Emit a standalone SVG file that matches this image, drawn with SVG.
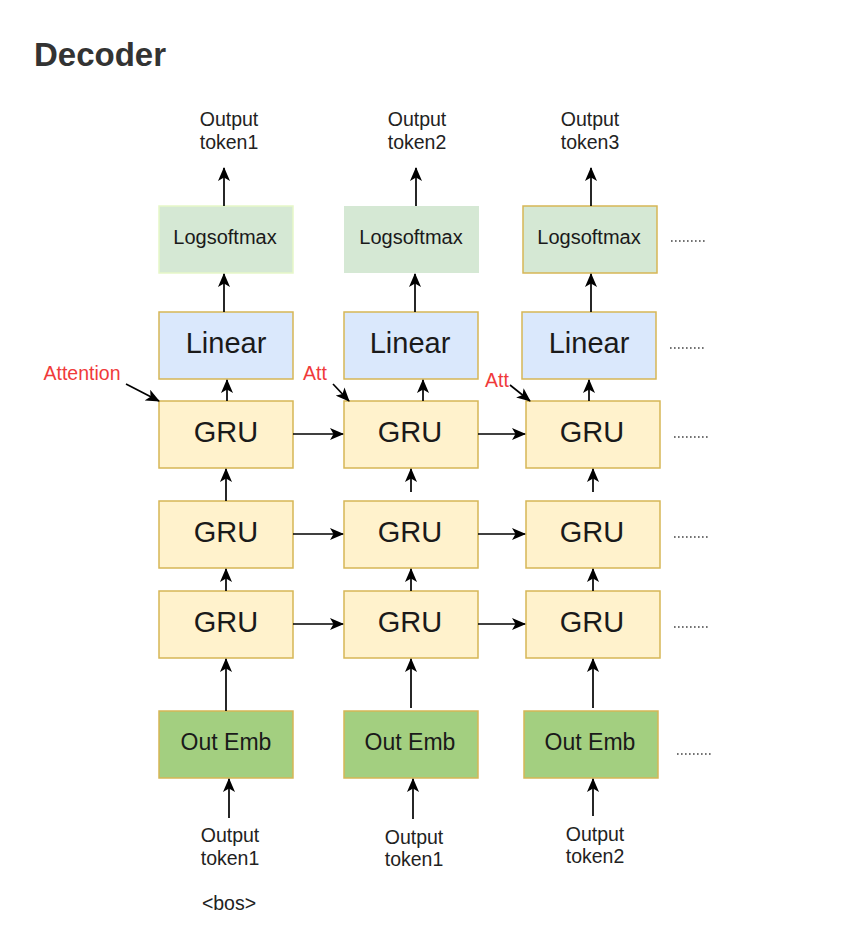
<svg xmlns="http://www.w3.org/2000/svg" width="860" height="948" viewBox="0 0 860 948">
<defs>
<marker id="arr" markerUnits="userSpaceOnUse" markerWidth="14" markerHeight="12" viewBox="0 0 14 12" refX="13" refY="6" orient="auto">
<path d="M0,0 L14,6 L0,12 L3.5,6 z" fill="#000"/>
</marker>
<style>
text{font-family:"Liberation Sans",Arial,Helvetica,sans-serif;text-anchor:middle;fill:#1a1a1a}
.lbl{font-size:19.5px;fill:#222}
.log{font-size:20px}
.big{font-size:29px}
.emb{font-size:23px}
.red{font-size:19.5px;fill:#f03a3a}
.conn line{stroke:#000;stroke-width:1.7;marker-end:url(#arr)}
.dots line{stroke:#444;stroke-width:1.3;stroke-dasharray:1.6 2.4}
.gru{fill:#fff2cc;stroke:#d6b656;stroke-width:1.5}
.lin{fill:#dae8fc;stroke:#d6b656;stroke-width:1.5}
.emb-box{fill:#a3cf80;stroke:#d6b656;stroke-width:1.5}
.ls{fill:#d5e8d4}
</style>
</defs>
<rect width="860" height="948" fill="#fff"/>
<text x="34" y="66" style="font-size:33px;font-weight:bold;fill:#333;text-anchor:start">Decoder</text>

<g id="top-labels">
<text class="lbl" x="229" y="126">Output</text><text class="lbl" x="229" y="149">token1</text>
<text class="lbl" x="417" y="126">Output</text><text class="lbl" x="417" y="149">token2</text>
<text class="lbl" x="590" y="126">Output</text><text class="lbl" x="590" y="149">token3</text>
</g>

<g id="log1"><rect class="ls" x="159" y="206" width="134" height="67" stroke="#e6f7c8" stroke-width="1.5"/><text class="log" x="225" y="244">Logsoftmax</text></g>
<g id="log2"><rect class="ls" x="344" y="206" width="135" height="67"/><text class="log" x="411" y="244">Logsoftmax</text></g>
<g id="log3"><rect class="ls" x="523" y="206" width="134" height="67" stroke="#d6b656" stroke-width="1.5"/><text class="log" x="589" y="244">Logsoftmax</text></g>

<g id="lin1"><rect class="lin" x="159" y="312" width="134" height="67"/><text class="big" x="226" y="353">Linear</text></g>
<g id="lin2"><rect class="lin" x="344" y="312" width="134" height="67"/><text class="big" x="410" y="353">Linear</text></g>
<g id="lin3"><rect class="lin" x="522" y="312" width="134" height="67"/><text class="big" x="589" y="353">Linear</text></g>

<g id="gru1a"><rect class="gru" x="159" y="401" width="134" height="67"/><text class="big" x="226" y="442">GRU</text></g>
<g id="gru2a"><rect class="gru" x="344" y="401" width="134" height="67"/><text class="big" x="410" y="442">GRU</text></g>
<g id="gru3a"><rect class="gru" x="526" y="401" width="134" height="67"/><text class="big" x="592" y="442">GRU</text></g>

<g id="gru1b"><rect class="gru" x="159" y="501" width="134" height="67"/><text class="big" x="226" y="542">GRU</text></g>
<g id="gru2b"><rect class="gru" x="344" y="501" width="134" height="67"/><text class="big" x="410" y="542">GRU</text></g>
<g id="gru3b"><rect class="gru" x="526" y="501" width="134" height="67"/><text class="big" x="592" y="542">GRU</text></g>

<g id="gru1c"><rect class="gru" x="159" y="591" width="134" height="67"/><text class="big" x="226" y="632">GRU</text></g>
<g id="gru2c"><rect class="gru" x="344" y="591" width="134" height="67"/><text class="big" x="410" y="632">GRU</text></g>
<g id="gru3c"><rect class="gru" x="526" y="591" width="134" height="67"/><text class="big" x="592" y="632">GRU</text></g>

<g id="emb1"><rect class="emb-box" x="159" y="711" width="134" height="67"/><text class="emb" x="226" y="750">Out Emb</text></g>
<g id="emb2"><rect class="emb-box" x="344" y="711" width="134" height="67"/><text class="emb" x="410" y="750">Out Emb</text></g>
<g id="emb3"><rect class="emb-box" x="524" y="711" width="134" height="67"/><text class="emb" x="590" y="750">Out Emb</text></g>

<g id="bottom-labels">
<text class="lbl" x="230" y="842">Output</text><text class="lbl" x="230" y="865">token1</text>
<text class="lbl" x="229" y="910">&lt;bos&gt;</text>
<text class="lbl" x="414" y="844">Output</text><text class="lbl" x="414" y="866">token1</text>
<text class="lbl" x="595" y="841">Output</text><text class="lbl" x="595" y="863">token2</text>
</g>

<g id="att-labels">
<text class="red" x="82" y="380">Attention</text>
<text class="red" x="315" y="380">Att</text>
<text class="red" x="497" y="387">Att</text>
</g>

<g class="conn" id="connectors">
<line x1="224" y1="206" x2="224" y2="168"/>
<line x1="416" y1="206" x2="416" y2="168"/>
<line x1="591" y1="206" x2="591" y2="168"/>
<line x1="224" y1="312" x2="224" y2="274"/>
<line x1="415" y1="312" x2="415" y2="274"/>
<line x1="591" y1="312" x2="591" y2="274"/>
<line x1="227" y1="401" x2="227" y2="380"/>
<line x1="423" y1="401" x2="423" y2="380"/>
<line x1="589" y1="401" x2="589" y2="380"/>
<line x1="226" y1="501" x2="226" y2="469"/>
<line x1="411" y1="492" x2="411" y2="469"/>
<line x1="593" y1="492" x2="593" y2="469"/>
<line x1="226" y1="591" x2="226" y2="569"/>
<line x1="411" y1="591" x2="411" y2="569"/>
<line x1="593" y1="591" x2="593" y2="569"/>
<line x1="226" y1="711" x2="226" y2="659"/>
<line x1="411" y1="708" x2="411" y2="659"/>
<line x1="593" y1="708" x2="593" y2="659"/>
<line x1="229" y1="818" x2="229" y2="779"/>
<line x1="413" y1="819" x2="413" y2="779"/>
<line x1="593" y1="816" x2="593" y2="779"/>
<line x1="293" y1="434" x2="343" y2="434"/>
<line x1="478" y1="434" x2="525" y2="434"/>
<line x1="293" y1="534" x2="343" y2="534"/>
<line x1="478" y1="534" x2="525" y2="534"/>
<line x1="293" y1="624" x2="343" y2="624"/>
<line x1="478" y1="624" x2="525" y2="624"/>
<line x1="126" y1="384" x2="159" y2="401"/>
<line x1="333" y1="384" x2="349" y2="401"/>
<line x1="510" y1="385" x2="530" y2="401"/>
</g>

<g class="dots" id="continuation">
<line x1="671" y1="241" x2="706" y2="241"/>
<line x1="670" y1="348" x2="706" y2="348"/>
<line x1="674" y1="437" x2="710" y2="437"/>
<line x1="674" y1="537" x2="710" y2="537"/>
<line x1="674" y1="627" x2="710" y2="627"/>
<line x1="677" y1="754" x2="713" y2="754"/>
</g>
</svg>
